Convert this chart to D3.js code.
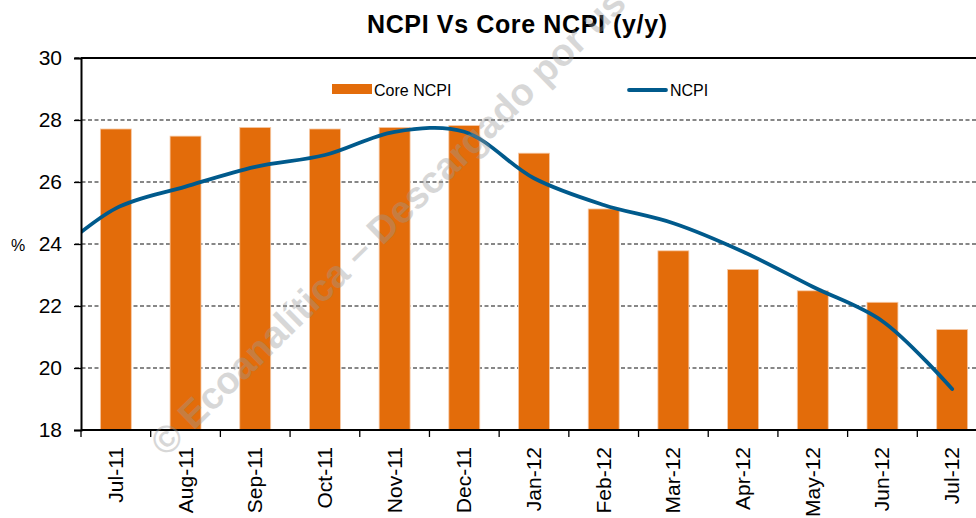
<!DOCTYPE html>
<html>
<head>
<meta charset="utf-8">
<script src="https://cdn.jsdelivr.net/npm/d3@7/dist/d3.min.js"></script>
<style>
  html, body { margin: 0; padding: 0; background: #fff; }
  svg { display: block; font-family: Arial, "Liberation Sans", sans-serif; }
</style>
</head>
<body>
<svg id="chart" width="976" height="518"></svg>
<script>
// ---- data ----
const categories = ["Jul-11","Aug-11","Sep-11","Oct-11","Nov-11","Dec-11","Jan-12","Feb-12","Mar-12","Apr-12","May-12","Jun-12","Jul-12"];
const coreNcpi = [27.71, 27.48, 27.76, 27.71, 27.76, 27.82, 26.93, 25.13, 23.78, 23.18, 22.49, 22.12, 21.24];
const ncpi     = [25.15, 25.85, 26.49, 26.87, 27.62, 27.62, 26.12, 25.26, 24.67, 23.75, 22.62, 21.51, 19.32];
// previous month (Jun-11), outside the visible axis, only shapes the clipped start of the line
const ncpiPrevCategory = "Jun-11";
const ncpiPrev = 23.45;
const yTicks = [18, 20, 22, 24, 26, 28, 30];
const title = "NCPI Vs Core NCPI (y/y)";
const seriesNames = ["Core NCPI", "NCPI"];
const yLabel = "%";
const watermark = "© Ecoanalítica – Descargado por us";

// ---- layout ----
const svg = d3.select("#chart");
const pLeft = 81, pRight = 987, pTop = 58, pBottom = 430;
const orange = "#E36C0A", blue = "#005A8C";

const x = d3.scaleBand().domain(categories).range([pLeft, pRight]).paddingInner(0).paddingOuter(0);
const y = d3.scaleLinear().domain([18, 30]).range([pBottom, pTop]);
const bw = x.bandwidth();

// clip path for plot area
svg.append("defs").append("clipPath").attr("id", "plotclip")
  .append("rect").attr("x", pLeft).attr("y", pTop).attr("width", pRight - pLeft).attr("height", pBottom - pTop);

// gridlines (dashed), extending over tick area
svg.append("g").selectAll("line").data(yTicks.filter(d => d > 18)).join("line")
  .attr("x1", pLeft - 6).attr("x2", pRight)
  .attr("y1", d => y(d)).attr("y2", d => y(d))
  .attr("stroke", "#111").attr("stroke-width", 1.1).attr("stroke-dasharray", "4,2.5");

// bars
svg.append("g").selectAll("rect").data(categories).join("rect")
  .attr("x", d => x(d) + bw / 2 - bw * 0.222)
  .attr("width", bw * 0.444)
  .attr("y", (d, i) => y(coreNcpi[i]))
  .attr("height", (d, i) => y(18) - y(coreNcpi[i]))
  .attr("fill", orange)
  .attr("stroke", "#F6C9A6").attr("stroke-width", 0.8);

// line
const linePts = [[x(categories[0]) - bw / 2, ncpiPrev]].concat(categories.map((c, i) => [x(c) + bw / 2, ncpi[i]]));
const line = d3.line().x(d => d[0]).y(d => y(d[1])).curve(d3.curveCatmullRom.alpha(0.5));
svg.append("path").datum(linePts)
  .attr("clip-path", "url(#plotclip)")
  .attr("d", line).attr("fill", "none").attr("stroke", blue).attr("stroke-width", 3.8)
  .attr("stroke-linecap", "round").attr("stroke-linejoin", "round");

// plot border / axes
svg.append("line").attr("x1", pLeft).attr("x2", pRight).attr("y1", pTop).attr("y2", pTop).attr("stroke", "#000").attr("stroke-width", 2);
svg.append("line").attr("x1", pRight).attr("x2", pRight).attr("y1", pTop).attr("y2", pBottom).attr("stroke", "#000").attr("stroke-width", 2);

// y axis
const yAxis = d3.axisLeft(y).tickValues(yTicks).tickSize(7).tickPadding(12).tickFormat(d3.format("d"));
const gy = svg.append("g").attr("transform", `translate(${pLeft},0)`).call(yAxis);
gy.select(".domain").attr("stroke", "#000").attr("stroke-width", 2);
gy.selectAll(".tick line").attr("stroke", "#000").attr("stroke-width", 1.3);
gy.selectAll(".tick text").attr("font-size", 21).attr("fill", "#000").attr("font-family", "Arial, 'Liberation Sans', sans-serif");

// x axis: ticks at category boundaries
const gx = svg.append("g");
gx.append("line").attr("x1", pLeft).attr("x2", pRight).attr("y1", pBottom).attr("y2", pBottom).attr("stroke", "#000").attr("stroke-width", 2);
gx.selectAll("line.tk").data(categories).join("line").attr("class", "tk")
  .attr("x1", d => x(d)).attr("x2", d => x(d))
  .attr("y1", pBottom).attr("y2", pBottom + 7).attr("stroke", "#000").attr("stroke-width", 1.3);
gx.selectAll("text").data(categories).join("text")
  .attr("transform", d => `translate(${x(d) + bw / 2 + 7},${pBottom + 17}) rotate(-90)`)
  .attr("text-anchor", "end")
  .attr("font-size", 21).attr("fill", "#000")
  .text(d => d);

// y label
svg.append("text").attr("x", 11).attr("y", 251).attr("font-size", 16).attr("fill", "#000").text(yLabel);

// title
svg.append("text").attr("x", 517).attr("y", 33).attr("text-anchor", "middle")
  .attr("font-size", 25).attr("font-weight", "bold").attr("fill", "#000")
  .attr("textLength", 300).attr("lengthAdjust", "spacing").text(title);

// legend
svg.append("rect").attr("x", 332).attr("y", 84).attr("width", 40).attr("height", 10).attr("fill", orange);
svg.append("text").attr("x", 374).attr("y", 96).attr("font-size", 16).attr("fill", "#000").text(seriesNames[0]);
svg.append("line").attr("x1", 629).attr("x2", 666).attr("y1", 90).attr("y2", 90)
  .attr("stroke", blue).attr("stroke-width", 3.8).attr("stroke-linecap", "round");
svg.append("text").attr("x", 670).attr("y", 96).attr("font-size", 16).attr("fill", "#000").text(seriesNames[1]);

// watermark
svg.append("text").attr("transform", "translate(166,458) rotate(-44.4)")
  .attr("font-size", 38).attr("font-weight", "bold").attr("fill", "#999").attr("opacity", 0.38)
  .text(watermark);
</script>
</body>
</html>
